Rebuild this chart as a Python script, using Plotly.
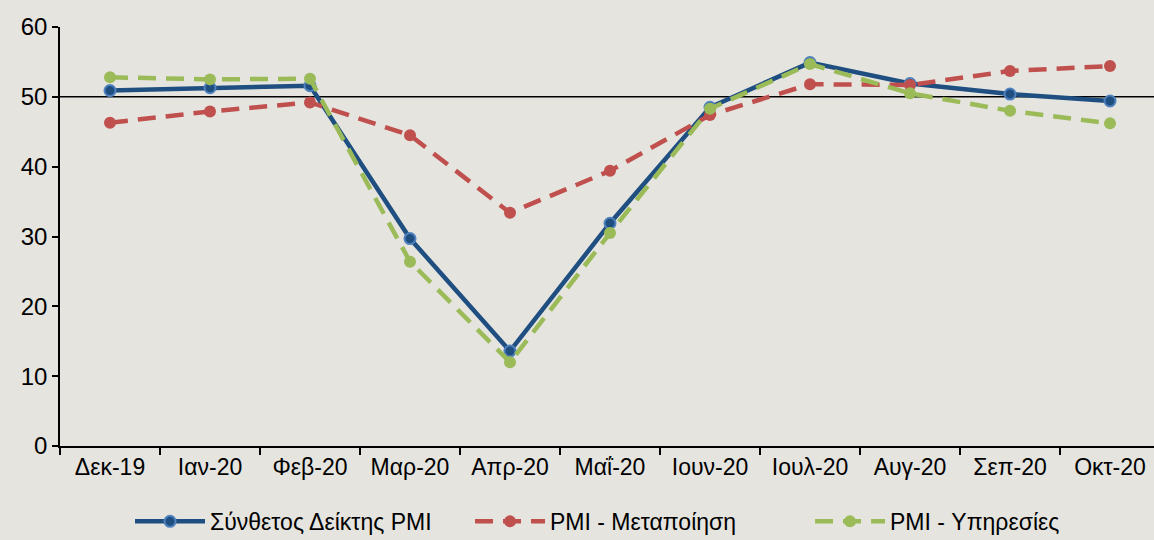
import plotly.graph_objects as go

months = ["Δεκ-19", "Ιαν-20", "Φεβ-20", "Μαρ-20", "Απρ-20", "Μαΐ-20",
          "Ιουν-20", "Ιουλ-20", "Αυγ-20", "Σεπ-20", "Οκτ-20"]
composite = [50.9, 51.3, 51.6, 29.7, 13.6, 31.9, 48.5, 54.9, 51.9, 50.4, 49.4]
manufacturing = [46.3, 47.9, 49.2, 44.5, 33.4, 39.4, 47.4, 51.8, 51.7, 53.7, 54.4]
services = [52.8, 52.5, 52.6, 26.4, 12.0, 30.5, 48.3, 54.7, 50.5, 48.0, 46.2]

names = ["Σύνθετος Δείκτης PMI", "PMI - Μεταποίηση", "PMI - Υπηρεσίες"]

bg = "#e5e4df"
font_family = "Liberation Sans, Arial, sans-serif"

fig = go.Figure()
fig.add_trace(go.Scatter(
    x=months, y=composite, name=names[0], mode="lines+markers",
    line=dict(color="#1f4e80", width=4.5),
    marker=dict(size=11, color="#1f4e80", line=dict(color="#4f81bd", width=2)),
))
fig.add_trace(go.Scatter(
    x=months, y=manufacturing, name=names[1], mode="lines+markers",
    line=dict(color="#c0504d", width=4.5, dash="18px,10px"),
    marker=dict(size=12, color="#c0504d"),
))
fig.add_trace(go.Scatter(
    x=months, y=services, name=names[2], mode="lines+markers",
    line=dict(color="#9bbb59", width=4.5, dash="18px,10px"),
    marker=dict(size=12, color="#9bbb59"),
))

fig.add_shape(type="line", xref="paper", yref="y", x0=0, x1=1, y0=50, y1=50,
              line=dict(color="black", width=1.5), layer="below")

fig.update_layout(
    width=1154, height=540,
    paper_bgcolor=bg, plot_bgcolor=bg,
    margin=dict(l=60, r=0, t=27, b=94, autoexpand=False),
    font=dict(family=font_family, size=24, color="black"),
    showlegend=True,
    legend=dict(
        orientation="h", x=0.064, xanchor="left", y=-0.18, yanchor="middle",
        font=dict(size=23), itemwidth=70, entrywidth=255, entrywidthmode="pixels",
        bgcolor="rgba(0,0,0,0)", tracegroupgap=0,
    ),
)
fig.update_xaxes(
    range=[-0.5, 10.44], showline=True, linecolor="black", linewidth=1.5,
    ticks="outside", ticklen=7, tickwidth=1.5, tickcolor="black", tickson="boundaries",
    showgrid=False, zeroline=False, tickfont=dict(size=23),
)
fig.update_yaxes(
    range=[0, 60], dtick=10, showline=True, linecolor="black", linewidth=1.5,
    ticks="outside", ticklen=6, tickwidth=1.5, tickcolor="black",
    showgrid=False, zeroline=False, tickfont=dict(size=24),
)

fig.write_html(
    "out.html",
    config={"displayModeBar": False},
    post_script="document.body.style.margin='0';document.body.style.overflow='hidden';",
)
